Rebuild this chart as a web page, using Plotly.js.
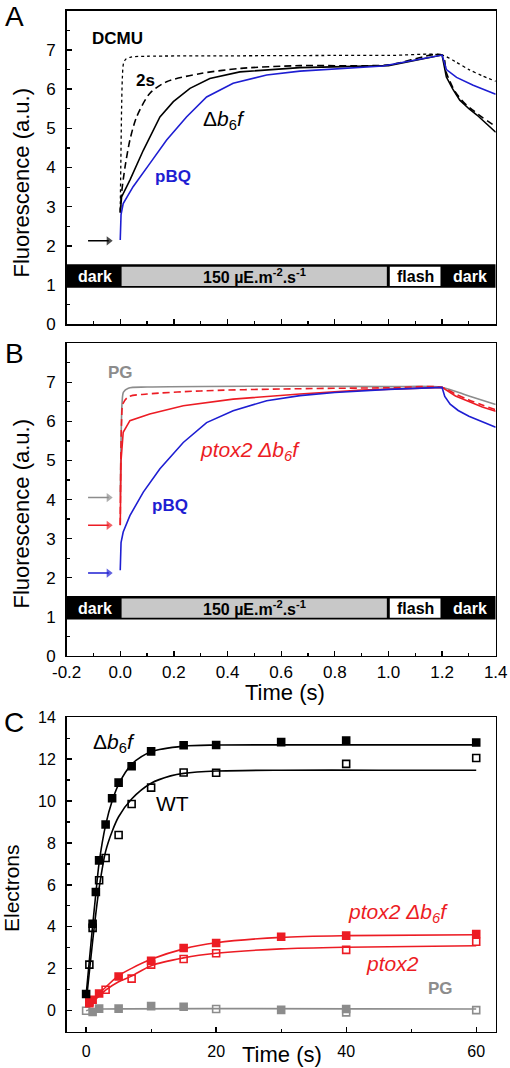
<!DOCTYPE html>
<html>
<head>
<meta charset="utf-8">
<script src="https://cdn.plot.ly/plotly-3.0.1.min.js"></script>
<style>
html,body{margin:0;padding:0;background:#fff;}
#chart{width:510px;height:1068px;}
</style>
</head>
<body>
<div id="chart"></div>
<script>
// ---------- Panel A data (fluorescence, a.u.) ----------
const tA_DCMU = [0, 0.002, 0.005, 0.008, 0.012, 0.02, 0.04, 0.1, 0.4, 0.8, 1.0, 1.2, 1.25, 1.3, 1.35, 1.4];
const vA_DCMU = [2.9, 4.0, 5.5, 6.3, 6.65, 6.76, 6.82, 6.84, 6.85, 6.86, 6.86, 6.87, 6.7, 6.5, 6.34, 6.2];
const tA_2s = [0, 0.005, 0.018, 0.036, 0.061, 0.11, 0.173, 0.3, 0.45, 0.67, 1.0, 1.2, 1.216, 1.25, 1.29, 1.316, 1.35, 1.4];
const vA_2s = [2.85, 3.35, 4.02, 4.7, 5.29, 5.89, 6.19, 6.4, 6.53, 6.6, 6.62, 6.87, 6.42, 5.92, 5.6, 5.46, 5.28, 5.05];
const tA_b6f = [0, 0.005, 0.036, 0.086, 0.148, 0.198, 0.26, 0.334, 0.446, 0.67, 1.0, 1.2, 1.216, 1.24, 1.266, 1.3, 1.33, 1.37, 1.4];
const vA_b6f = [2.85, 3.25, 3.68, 4.44, 5.29, 5.68, 6.02, 6.27, 6.44, 6.55, 6.6, 6.87, 6.31, 6.0, 5.72, 5.5, 5.34, 5.1, 4.9];
const tA_pBQ = [0, 0.003, 0.011, 0.048, 0.11, 0.173, 0.247, 0.322, 0.421, 0.546, 0.67, 0.8, 0.98, 1.2, 1.216, 1.254, 1.316, 1.4];
const vA_pBQ = [2.15, 2.8, 3.08, 3.51, 4.1, 4.7, 5.29, 5.8, 6.15, 6.36, 6.46, 6.52, 6.59, 6.87, 6.5, 6.3, 6.1, 5.87];

// ---------- Panel B data ----------
const tB_PG = [0, 0.003, 0.007, 0.012, 0.03, 0.1, 0.5, 1.0, 1.2, 1.3, 1.4];
const vB_PG = [4.1, 5.5, 6.5, 6.75, 6.85, 6.88, 6.9, 6.89, 6.87, 6.65, 6.43];
const tB_ptox2 = [0, 0.002, 0.005, 0.01, 0.03, 0.1, 0.3, 0.6, 1.0, 1.2, 1.25, 1.3, 1.35, 1.4];
const vB_ptox2 = [3.35, 5.0, 6.0, 6.45, 6.63, 6.7, 6.78, 6.83, 6.86, 6.87, 6.7, 6.55, 6.42, 6.3];
const tB_ptox2b6f = [0, 0.003, 0.011, 0.036, 0.11, 0.235, 0.421, 0.67, 0.9, 1.2, 1.25, 1.3, 1.35, 1.4];
const vB_ptox2b6f = [3.34, 5.0, 5.72, 6.02, 6.19, 6.4, 6.57, 6.7, 6.8, 6.87, 6.65, 6.5, 6.37, 6.26];
const tB_pBQ = [0, 0.003, 0.011, 0.036, 0.086, 0.148, 0.235, 0.322, 0.421, 0.546, 0.67, 0.8, 1.0, 1.2, 1.21, 1.23, 1.26, 1.3, 1.35, 1.4];
const vB_pBQ = [2.19, 2.9, 3.17, 3.59, 4.19, 4.79, 5.46, 5.97, 6.27, 6.53, 6.66, 6.74, 6.82, 6.87, 6.64, 6.44, 6.28, 6.13, 5.99, 5.85];

// light protocol phases (time, s)
const phaseStart = [-0.2, 0.0, 1.0, 1.2];
const phaseEnd = [0.0, 1.0, 1.2, 1.4];
const phaseLabels = ['dark', '150 µE.m<sup>-2</sup>.s<sup>-1</sup>', 'flash', 'dark'];

// F0 arrow levels
const arrowA = [2.13];
const arrowB = [4.05, 3.34, 2.12];

// tick labels
const yTickValsA = [0, 1, 2, 3, 4, 5, 6, 7, 8];
const yTickValsB = [0, 1, 2, 3, 4, 5, 6, 7];
const xTickValsB = [-0.2, 0.0, 0.2, 0.4, 0.6, 0.8, 1.0, 1.2, 1.4];
const xTickTextB = ['-0.2', '0.0', '0.2', '0.4', '0.6', '0.8', '1.0', '1.2', '1.4'];

// ---------- Panel C data (electrons) ----------
const tC_b6f = [0, 1, 1.5, 2, 3, 4, 5, 7, 10, 15, 20, 30, 40, 60];
const vC_b6f = [0.8, 4.15, 5.66, 7.17, 8.88, 10.13, 10.88, 11.66, 12.37, 12.66, 12.67, 12.81, 12.89, 12.79];
const tC_WT = [0.5, 1, 2, 3, 5, 7, 10, 15, 20, 40, 60];
const vC_WT = [2.2, 3.95, 6.22, 7.28, 8.38, 9.86, 10.64, 11.36, 11.35, 11.77, 12.05];
const tC_ptox2b6f = [0.5, 1, 2, 5, 10, 15, 20, 30, 40, 60];
const vC_ptox2b6f = [0.42, 0.52, 0.82, 1.63, 2.38, 2.99, 3.23, 3.53, 3.58, 3.66];
const tC_ptox2 = [0.5, 3, 7, 10, 15, 20, 40, 60];
const vC_ptox2 = [0.36, 1.0, 1.53, 2.2, 2.47, 2.74, 2.9, 3.29];
const tC_PGf = [1, 2, 5, 10, 15, 30, 40];
const vC_PGf = [-0.06, 0.1, 0.1, 0.22, 0.19, 0.04, 0.08];
const tC_PGo = [0, 20, 40, 60];
const vC_PGo = [0.0, 0.08, -0.08, 0.03];

// fitted curves
const tFit_b6f = [0, 0.5, 1, 1.5, 2, 3, 4, 5, 7, 10, 15, 20, 30, 45, 60];
const vFit_b6f = [0.75, 2.4, 4.05, 5.6, 7.05, 8.85, 10.0, 10.8, 11.75, 12.35, 12.62, 12.67, 12.68, 12.68, 12.68];
const tFit_WT = [0, 0.5, 1, 1.5, 2, 3, 4, 5, 7, 10, 13, 15, 20, 30, 45, 60];
const vFit_WT = [0.4, 1.85, 3.3, 4.65, 5.85, 7.6, 8.55, 9.25, 10.1, 10.85, 11.2, 11.32, 11.43, 11.47, 11.47, 11.47];
const tFit_ptox2b6f = [0, 1, 2, 3, 5, 7, 10, 15, 20, 30, 40, 60];
const vFit_ptox2b6f = [0.2, 0.5, 0.82, 1.12, 1.67, 2.02, 2.45, 2.95, 3.24, 3.5, 3.58, 3.62];
const tFit_ptox2 = [0, 1, 2, 3, 5, 7, 10, 15, 20, 30, 40, 60];
const vFit_ptox2 = [0.2, 0.45, 0.7, 0.98, 1.38, 1.65, 2.15, 2.52, 2.74, 2.95, 3.03, 3.1];
const tFit_PG = [0, 0.5, 2, 60];
const vFit_PG = [0.0, 0.05, 0.08, 0.08];

// ---------- styles ----------
const FONT = 'Liberation Sans, Arial, sans-serif';
const BLACK = '#000000', BLUE = '#1e1ed2', RED = '#ec1c24', GRAY = '#8c8c8c', BARGRAY = '#c8c8c8';
const TOP_LABEL_NUDGE = 0.2; // keeps the top "8" label inside the picture

function line(x, y, xa, ya, color, width, dash, shape) {
  return {x: x, y: y, xaxis: xa, yaxis: ya, type: 'scatter', mode: 'lines',
    line: {color: color, width: width, dash: dash || 'solid', shape: shape || 'linear', smoothing: 0.8},
    hoverinfo: 'skip', showlegend: false};
}
function pts(x, y, color, symbol) {
  return {x: x, y: y, xaxis: 'x3', yaxis: 'y3', type: 'scatter', mode: 'markers',
    marker: {symbol: symbol, size: 7, color: color, line: {color: color, width: 1.6}},
    hoverinfo: 'skip', showlegend: false};
}
function arrow(v, xa, ya, color) {
  return {x: [-0.12, -0.043], y: [v, v], xaxis: xa, yaxis: ya, type: 'scatter', mode: 'lines+markers',
    line: {color: color, width: 1.5},
    marker: {symbol: 'triangle-right', size: [0, 8], color: color, line: {width: 0}},
    hoverinfo: 'skip', showlegend: false, cliponaxis: false};
}

const data = [
  line(tA_DCMU, vA_DCMU, 'x', 'y', BLACK, 1.3, 'dot', 'spline'),
  line(tA_2s, vA_2s, 'x', 'y', BLACK, 1.6, '7px,4px', 'spline'),
  line(tA_b6f, vA_b6f, 'x', 'y', BLACK, 1.6),
  line(tA_pBQ, vA_pBQ, 'x', 'y', BLUE, 1.6),

  line(tB_PG, vB_PG, 'x2', 'y2', GRAY, 1.6, 'solid', 'spline'),
  line(tB_ptox2, vB_ptox2, 'x2', 'y2', RED, 1.6, '7px,4px', 'spline'),
  line(tB_ptox2b6f, vB_ptox2b6f, 'x2', 'y2', RED, 1.6),
  line(tB_pBQ, vB_pBQ, 'x2', 'y2', BLUE, 1.6),

  line(tFit_b6f, vFit_b6f, 'x3', 'y3', BLACK, 1.6, 'solid', 'spline'),
  line(tFit_WT, vFit_WT, 'x3', 'y3', BLACK, 1.6, 'solid', 'spline'),
  line(tFit_ptox2b6f, vFit_ptox2b6f, 'x3', 'y3', RED, 1.6, 'solid', 'spline'),
  line(tFit_ptox2, vFit_ptox2, 'x3', 'y3', RED, 1.6, 'solid', 'spline'),
  line(tFit_PG, vFit_PG, 'x3', 'y3', GRAY, 1.6, 'solid', 'spline'),
  pts(tC_PGo, vC_PGo, GRAY, 'square-open'),
  pts(tC_PGf, vC_PGf, GRAY, 'square'),
  pts(tC_ptox2, vC_ptox2, RED, 'square-open'),
  pts(tC_ptox2b6f, vC_ptox2b6f, RED, 'square'),
  pts(tC_WT, vC_WT, BLACK, 'square-open'),
  pts(tC_b6f, vC_b6f, BLACK, 'square')
];
const arrowColorsB = [GRAY, RED, BLUE];
arrowA.forEach(function (v) { data.push(arrow(v, 'x', 'y', BLACK)); });
arrowB.forEach(function (v, i) { data.push(arrow(v, 'x2', 'y2', arrowColorsB[i])); });

// top tick label of panel A, drawn as a text mark (Plotly drops the axis label at the figure edge)
const topA = yTickValsA[yTickValsA.length - 1];
data.push({x: [-0.232], y: [topA - TOP_LABEL_NUDGE], xaxis: 'x', yaxis: 'y', type: 'scatter', mode: 'text',
  text: [String(topA)], textposition: 'middle left', cliponaxis: false,
  textfont: {family: FONT, size: 17, color: BLACK}, hoverinfo: 'skip', showlegend: false});

// ---------- shapes: light protocol bar ----------
const shapes = [];
const annotations = [];
[['x', 'y'], ['x2', 'y2']].forEach(function (ax) {
  shapes.push({type: 'rect', xref: ax[0], yref: ax[1], x0: -0.2, x1: 1.4, y0: 0.93, y1: 1.53,
    fillcolor: BLACK, line: {width: 0}, layer: 'above'});
  for (let i = 0; i < phaseStart.length; i++) {
    const lbl = phaseLabels[i];
    const isDark = (lbl === 'dark');
    if (!isDark) {
      shapes.push({type: 'rect', xref: ax[0], yref: ax[1],
        x0: phaseStart[i] + 0.005, x1: phaseEnd[i] - 0.006, y0: 0.975, y1: 1.47,
        fillcolor: (i === 1 ? BARGRAY : '#ffffff'), line: {width: 0}, layer: 'above'});
    }
    annotations.push({xref: ax[0], yref: ax[1], x: (phaseStart[i] + phaseEnd[i]) / 2 + (isDark ? 0.005 : 0),
      y: 1.22, text: '<b>' + lbl + '</b>', showarrow: false,
      font: {family: FONT, size: 16, color: isDark ? '#ffffff' : BLACK}});
  }
});

function lab(xref, yref, x, y, text, size, color) {
  annotations.push({xref: xref, yref: yref, x: x, y: y, text: text, showarrow: false,
    xanchor: 'center', yanchor: 'middle', font: {family: FONT, size: size, color: color}});
}
// panel A labels
lab('x', 'y', -0.01, 7.29, '<b>DCMU</b>', 17, BLACK);
lab('x', 'y', 0.096, 6.23, '<b>2s</b>', 17, BLACK);
lab('x', 'y', 0.387, 5.2, 'Δ<i>b</i><sub>6</sub><i>f</i>', 21, BLACK);
lab('x', 'y', 0.195, 3.78, '<b>pBQ</b>', 17, BLUE);
// panel B labels
lab('x2', 'y2', 0.002, 7.25, '<b>PG</b>', 17, GRAY);
lab('x2', 'y2', 0.483, 5.25, '<i>ptox2 Δb<sub>6</sub>f</i>', 21, RED);
lab('x2', 'y2', 0.185, 3.85, '<b>pBQ</b>', 17, BLUE);
// panel C labels
lab('x3', 'y3', 4.3, 12.75, 'Δ<i>b</i><sub>6</sub><i>f</i>', 21, BLACK);
lab('x3', 'y3', 13.3, 9.9, 'WT', 21, BLACK);
lab('x3', 'y3', 48, 4.65, '<i>ptox2 Δb<sub>6</sub>f</i>', 21, RED);
lab('x3', 'y3', 47.1, 2.23, '<i>ptox2</i>', 21, RED);
lab('x3', 'y3', 54.5, 1.04, '<b>PG</b>', 17, GRAY);

function paperText(x, y, text, size, angle) {
  annotations.push({xref: 'paper', yref: 'paper', x: x / 510, y: 1 - y / 1068, text: text, showarrow: false,
    xanchor: 'center', yanchor: 'middle', textangle: angle || 0, font: {family: FONT, size: size, color: BLACK}});
}
// panel letters
paperText(14.5, 16, 'A', 28);
paperText(14, 353, 'B', 28);
paperText(14, 722, 'C', 28);
// axis titles
paperText(21, 182.5, 'Fluorescence (a.u.)', 22, -90);
paperText(21, 513.5, 'Fluorescence (a.u.)', 22, -90);
paperText(11, 888, 'Electrons', 21, -90);
paperText(285, 692, 'Time (s)', 22);
paperText(282, 1054, 'Time (s)', 22);

const XD = [0.1306, 0.972];
function xaxisBase(range, dtick, minorDtick) {
  return {domain: XD, range: range, showgrid: false, zeroline: false, showline: true, mirror: true,
    linecolor: BLACK, linewidth: 1.5, ticks: 'inside', ticklen: 5, tickwidth: 1.3, tickcolor: BLACK,
    dtick: dtick, tick0: 0, minor: {dtick: minorDtick, tick0: 0, ticks: 'inside', ticklen: 3, tickwidth: 1.2, tickcolor: BLACK},
    tickfont: {family: FONT, size: 17, color: BLACK}, fixedrange: true, automargin: false};
}
function yaxisBase(domain, range, dtick, minorDtick) {
  return {domain: domain, range: range, showgrid: false, zeroline: false, showline: true, mirror: true,
    linecolor: BLACK, linewidth: 1.5, ticks: 'inside', ticklen: 5, tickwidth: 1.3, tickcolor: BLACK,
    dtick: dtick, tick0: 0, minor: {dtick: minorDtick, tick0: 0, ticks: 'inside', ticklen: 3, tickwidth: 1.2, tickcolor: BLACK},
    tickfont: {family: FONT, size: 17, color: BLACK}, ticklabelstandoff: 6,
    fixedrange: true, automargin: false};
}

const xaxis = Object.assign(xaxisBase([-0.2, 1.4], 0.2, 0.1), {anchor: 'y', showticklabels: false});
const yaxis = Object.assign(yaxisBase([0.6964, 0.9899], [0, 8], 1, 0.5), {anchor: 'x',
  tickmode: 'array', tickvals: yTickValsA.slice(0, -1)});
const xaxis2 = Object.assign(xaxisBase([-0.2, 1.4], 0.2, 0.1), {anchor: 'y2', tickmode: 'array',
  tickvals: xTickValsB, ticktext: xTickTextB, ticklabelstandoff: 0});
const yaxis2 = Object.assign(yaxisBase([0.3859, 0.6786], [0, 8], 1, 0.5), {anchor: 'x2', tickmode: 'array',
  tickvals: yTickValsB});
const xaxis3 = Object.assign(xaxisBase([-3, 63], 20, 10), {anchor: 'y3', ticklabelstandoff: 5,
  tickfont: {family: FONT, size: 16, color: BLACK}});
const yaxis3 = Object.assign(yaxisBase([0.034, 0.3285], [-1, 14], 2, 1), {anchor: 'x3',
  tickfont: {family: FONT, size: 16, color: BLACK}});

const layout = {
  width: 510, height: 1068,
  margin: {l: 0, r: 0, t: 0, b: 0},
  paper_bgcolor: '#ffffff', plot_bgcolor: '#ffffff',
  font: {family: FONT, color: BLACK},
  showlegend: false,
  xaxis: xaxis, yaxis: yaxis, xaxis2: xaxis2, yaxis2: yaxis2, xaxis3: xaxis3, yaxis3: yaxis3,
  shapes: shapes, annotations: annotations
};

Plotly.newPlot('chart', data, layout, {staticPlot: true, displayModeBar: false});
</script>
</body>
</html>
